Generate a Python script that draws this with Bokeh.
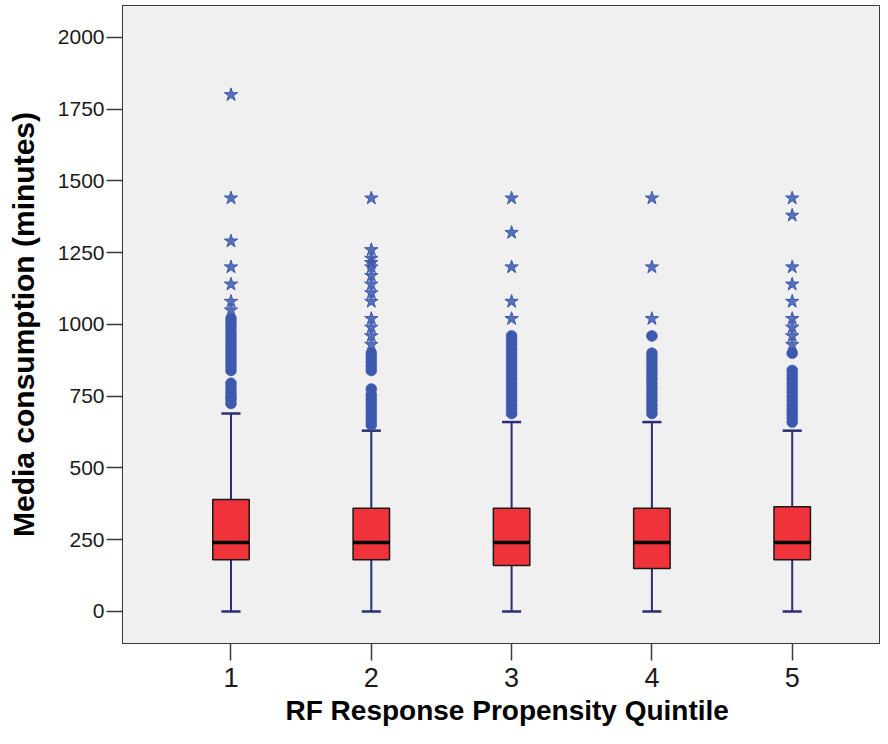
from bokeh.plotting import figure
from bokeh.models import Range1d, FixedTicker, Title
from bokeh.embed import file_html
from bokeh.resources import INLINE

# ---- data ----
groups = [1, 2, 3, 4, 5]
q1 = [180, 180, 160, 150, 180]
median = [240, 240, 240, 240, 240]
q3 = [390, 360, 360, 360, 365]
whisker_low = [0, 0, 0, 0, 0]
whisker_high = [690, 630, 660, 660, 630]

circles_1 = [725, 740, 750, 765, 780, 795, 840, 855, 870, 885, 900, 915, 930,
             945, 960, 975, 990, 1005, 1020]
circles_2 = [650, 665, 680, 695, 710, 725, 740, 755, 775, 840, 855, 870, 885, 900]
circles_3 = [690, 705, 720, 735, 750, 765, 780, 795, 810, 825, 840, 855, 870,
             885, 900, 915, 930, 945, 960]
circles_4 = [690, 705, 720, 735, 750, 765, 780, 795, 810, 825, 840, 855, 870,
             885, 900, 960]
circles_5 = [660, 675, 690, 705, 720, 735, 750, 765, 780, 795, 810, 825, 840, 900]

stars_1 = [1050, 1080, 1140, 1200, 1290, 1440, 1800]
stars_2 = [930, 960, 990, 1020, 1080, 1110, 1140, 1170, 1200, 1215, 1230, 1260, 1440]
stars_3 = [1020, 1080, 1200, 1320, 1440]
stars_4 = [1020, 1200, 1440]
stars_5 = [930, 960, 990, 1020, 1080, 1140, 1200, 1380, 1440]

y_ticks = [0, 250, 500, 750, 1000, 1250, 1500, 1750, 2000]
x_labels = ["1", "2", "3", "4", "5"]

x_title = "RF Response Propensity Quintile"
y_title = "Media consumption (minutes)"

# ---- styles ----
BOX_W = 0.26
CAP_W = 0.136
RED = "#f0333a"
WHISK = "#2b2e72"
BLUE = "#3d59ae"
FONT = "Liberation Sans"
AXC = "#3a3a3a"

p = figure(width=880, height=728, output_backend="svg", toolbar_location=None,
           x_range=Range1d(0.2267, 5.6293), y_range=Range1d(-111.5, 2111.3),
           min_border_left=122, min_border_right=0, min_border_top=5,
           min_border_bottom=85)

p.background_fill_color = "#f0f0f0"
p.border_fill_color = "white"
p.outline_line_color = AXC
p.outline_line_width = 1
p.grid.visible = False

# whiskers
p.segment(x0=groups, x1=groups, y0=q3, y1=whisker_high, line_color=WHISK, line_width=2)
p.segment(x0=groups, x1=groups, y0=q1, y1=whisker_low, line_color=WHISK, line_width=2)
cap_l = [g - CAP_W / 2 for g in groups]
cap_r = [g + CAP_W / 2 for g in groups]
p.segment(x0=cap_l, x1=cap_r, y0=whisker_high, y1=whisker_high, line_color=WHISK, line_width=2.5)
p.segment(x0=cap_l, x1=cap_r, y0=whisker_low, y1=whisker_low, line_color=WHISK, line_width=2.5)

# boxes
p.vbar(x=groups, width=BOX_W, bottom=q1, top=q3, fill_color=RED,
       line_color="#1a1a1a", line_width=1.5)
box_l = [g - BOX_W / 2 for g in groups]
box_r = [g + BOX_W / 2 for g in groups]
p.segment(x0=box_l, x1=box_r, y0=median, y1=median, line_color="black", line_width=3.5)

# outliers
circ_x, circ_y, star_x, star_y = [], [], [], []
for g, cs, ss in zip(groups,
                     [circles_1, circles_2, circles_3, circles_4, circles_5],
                     [stars_1, stars_2, stars_3, stars_4, stars_5]):
    circ_x += [g] * len(cs)
    circ_y += cs
    star_x += [g] * len(ss)
    star_y += ss

p.scatter(x=circ_x, y=circ_y, marker="circle", size=11, fill_color=BLUE,
          line_color=BLUE, line_width=0.5)
p.scatter(x=star_x, y=star_y, marker="star", size=14, fill_color=BLUE,
          fill_alpha=0.85, line_color=BLUE, line_width=1)

# axes
p.yaxis.ticker = FixedTicker(ticks=y_ticks)
p.xaxis.ticker = FixedTicker(ticks=groups)
p.xaxis.major_label_overrides = {g: lab for g, lab in zip(groups, x_labels)}
for ax in (p.xaxis[0], p.yaxis[0]):
    ax.axis_line_color = AXC
    ax.major_tick_line_color = AXC
    ax.major_tick_line_width = 1.5
    ax.minor_tick_line_color = None
    ax.major_tick_in = 0
    ax.major_label_text_font = FONT
    ax.major_label_text_color = "#1a1a1a"
    ax.axis_label_text_font = FONT
    ax.axis_label_text_font_style = "bold"
    ax.axis_label_text_color = "black"

p.yaxis.major_tick_out = 16
p.xaxis.major_tick_out = 17
p.yaxis.major_label_text_font_size = "21px"
p.xaxis.major_label_text_font_size = "27px"
p.yaxis.major_label_standoff = 2
p.xaxis.major_label_standoff = 7
p.yaxis.axis_label = y_title
p.yaxis.axis_label_text_font_size = "30px"
p.yaxis.axis_label_standoff = 15

# x-axis title, placed to sit under the middle category as in the reference
p.add_layout(Title(text=x_title, align="left", offset=163, standoff=6,
                   text_font=FONT, text_font_style="bold",
                   text_font_size="28px", text_color="black"), "below")

open("out.html", "w").write(file_html(p, INLINE))
